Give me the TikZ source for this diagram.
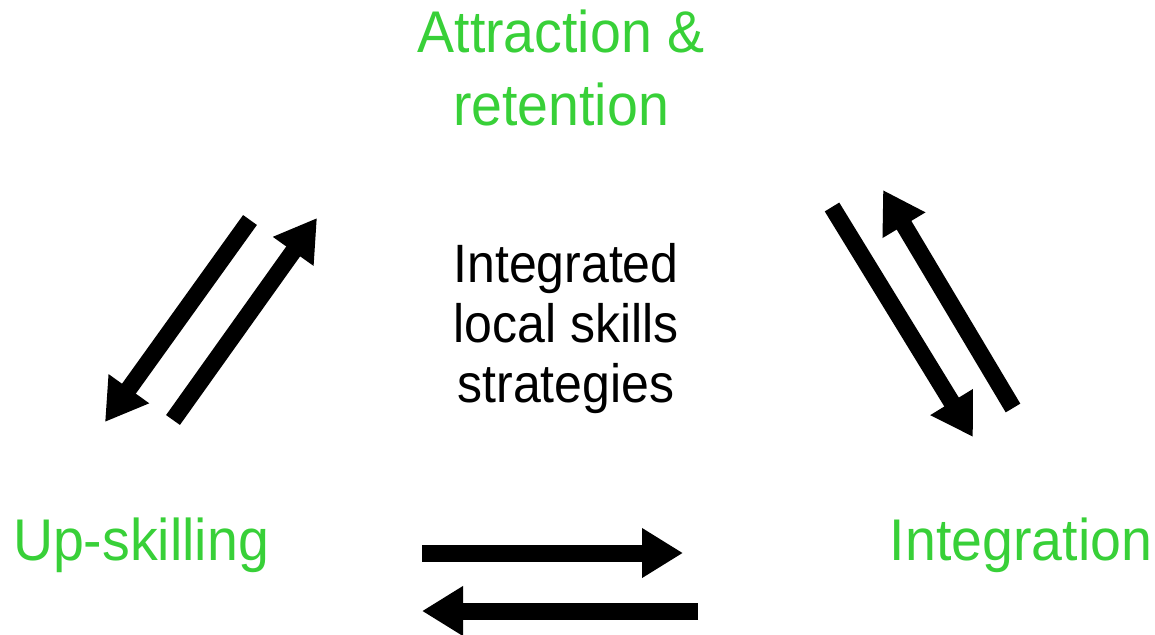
\documentclass[tikz,border=0pt]{standalone}
\usepackage{fontspec}
\setmainfont{Liberation Sans}
\usetikzlibrary{arrows.meta}
\definecolor{lblgreen}{RGB}{56,208,56}
\tikzset{
  greenlbl/.style={text=lblgreen, inner sep=0pt, align=center, anchor=base, yscale=1.06,
    font=\fontsize{55.5}{68}\selectfont},
  midlbl/.style={text=black, inner sep=0pt, align=center, anchor=base, yscale=1.08,
    font=\fontsize{50}{55.5}\selectfont},
  bigarrow/.style={line width=17pt, -{Triangle[length=41pt,width=47pt]}}
}
\begin{document}
\begin{tikzpicture}[x=1pt,y=-1pt]
\useasboundingbox (0,0) rectangle (1155,634);
\node[greenlbl] (attr) at (561,125) {Attraction \&\\retention};
\node[midlbl] (mid) at (566,402) {Integrated\\local skills\\strategies};
\node[greenlbl] (up) at (141,560) {Up-skilling};
\node[greenlbl] (integ) at (1021,560) {Integration};
% arrow endpoints
\coordinate (l1s) at (250,220); \coordinate (l1e) at (105,422);
\coordinate (l2s) at (173,420); \coordinate (l2e) at (317,218);
\coordinate (r1s) at (832,207); \coordinate (r1e) at (973,437);
\coordinate (r2s) at (1013,408); \coordinate (r2e) at (883,190);
\coordinate (b1s) at (422,553); \coordinate (b1e) at (683,553);
\coordinate (b2s) at (698,611); \coordinate (b2e) at (422,611);
\draw[bigarrow] (l1s) -- (l1e);
\draw[bigarrow] (l2s) -- (l2e);
\draw[bigarrow] (r1s) -- (r1e);
\draw[bigarrow] (r2s) -- (r2e);
\draw[bigarrow] (b1s) -- (b1e);
\draw[bigarrow] (b2s) -- (b2e);
\end{tikzpicture}
\end{document}
